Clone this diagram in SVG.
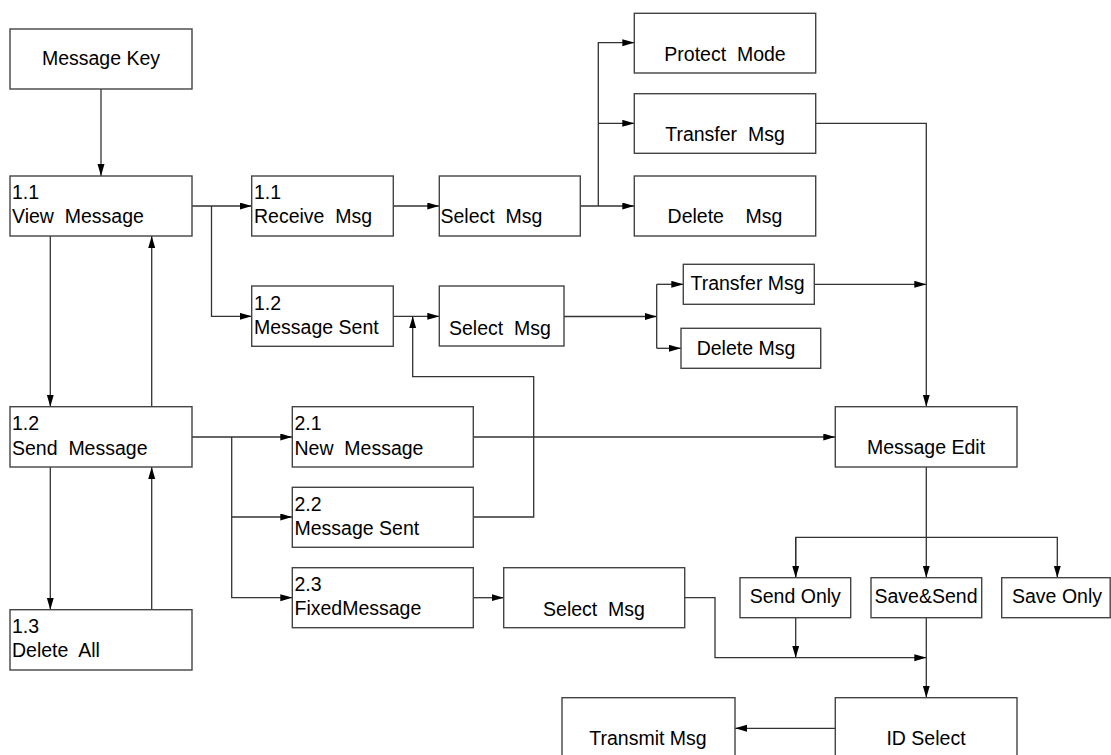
<svg xmlns="http://www.w3.org/2000/svg" width="1111" height="755" viewBox="0 0 1111 755">
<style>
.box{fill:#fff;stroke:#444;stroke-width:1.4}
.t{font-family:"Liberation Sans",Arial,sans-serif;font-size:19.5px;fill:#000;white-space:pre}
.c{text-anchor:middle}
.ln{fill:none;stroke:#333;stroke-width:1.3}
</style>
<defs>
<marker id="a" markerUnits="userSpaceOnUse" markerWidth="12" markerHeight="8" refX="12" refY="3.5" orient="auto">
<path d="M0,0 L12,3.5 L0,7 z" fill="#000"/>
</marker>
</defs>
<rect width="1111" height="755" fill="#fff"/>
<g id="connectors" class="ln">
<path d="M101,89 V176" marker-end="url(#a)"/>
<path d="M192,206 H251.7" marker-end="url(#a)"/>
<path d="M211.5,206 V316.3 H251.7" marker-end="url(#a)"/>
<path d="M50.3,236 V406.7" marker-end="url(#a)"/>
<path d="M151.7,406.7 V236" marker-end="url(#a)"/>
<path d="M50.3,467 V609.7" marker-end="url(#a)"/>
<path d="M151.7,609.7 V467" marker-end="url(#a)"/>
<path d="M393.3,206 H439.3" marker-end="url(#a)"/>
<path d="M580.3,206 H634.3" marker-end="url(#a)"/>
<path d="M598.3,206 V42.7 H634.3" marker-end="url(#a)"/>
<path d="M598.3,123.3 H634.3" marker-end="url(#a)"/>
<path d="M815.7,123.3 H926.3 V406.7" marker-end="url(#a)"/>
<path d="M393.3,316.3 H439.3" marker-end="url(#a)"/>
<path d="M564,316.5 H656.7" marker-end="url(#a)"/>
<path d="M656.7,284.3 V348.3"/>
<path d="M656.7,284.3 H683.3" marker-end="url(#a)"/>
<path d="M656.7,348.3 H681" marker-end="url(#a)"/>
<path d="M814.3,284.3 H926.3" marker-end="url(#a)"/>
<path d="M192,437 H292.3" marker-end="url(#a)"/>
<path d="M231.7,437 V597.7 H292.3" marker-end="url(#a)"/>
<path d="M231.7,517 H292.3" marker-end="url(#a)"/>
<path d="M473.3,437 H835.3" marker-end="url(#a)"/>
<path d="M473.3,517 H533.7 V376.7 H412.7 V316.3" marker-end="url(#a)"/>
<path d="M473.3,597.7 H503.7" marker-end="url(#a)"/>
<path d="M684.7,597.7 H715 V657.7 H926.3" marker-end="url(#a)"/>
<path d="M926.3,467 V577.7" marker-end="url(#a)"/>
<path d="M795.7,577.7 V537.3 H1057.3 V577.7" marker-end="url(#a)"/>
<path d="M795.7,537.3 V577.7" marker-end="url(#a)"/>
<path d="M795.7,617.7 V657.7" marker-end="url(#a)"/>
<path d="M926.3,617.7 V697.7" marker-end="url(#a)"/>
<path d="M835.3,728.3 H735" marker-end="url(#a)"/>
</g>
<g id="message-key"><rect class="box" x="10" y="29" width="182" height="60"/><text class="t c" x="101" y="65">Message Key</text></g>
<g id="view-message"><rect class="box" x="10" y="176" width="182" height="60"/><text class="t" x="12" y="199">1.1</text><text class="t" x="12" y="223">View  Message</text></g>
<g id="receive-msg"><rect class="box" x="251.7" y="176" width="141.6" height="60"/><text class="t" x="254" y="199">1.1</text><text class="t" x="254" y="223">Receive  Msg</text></g>
<g id="select-msg-1"><rect class="box" x="439.3" y="176" width="141" height="60"/><text class="t" x="440.5" y="223">Select  Msg</text></g>
<g id="protect-mode"><rect class="box" x="634.3" y="13.3" width="181.4" height="59.7"/><text class="t c" x="725" y="61">Protect  Mode</text></g>
<g id="transfer-msg-1"><rect class="box" x="634.3" y="93.7" width="181.4" height="59.6"/><text class="t c" x="725" y="141">Transfer  Msg</text></g>
<g id="delete-msg-1"><rect class="box" x="634.3" y="176" width="181.4" height="60"/><text class="t c" x="725" y="223">Delete    Msg</text></g>
<g id="message-sent-1"><rect class="box" x="251.7" y="286" width="141.6" height="60.3"/><text class="t" x="254" y="309.5">1.2</text><text class="t" x="254" y="333.5">Message Sent</text></g>
<g id="select-msg-2"><rect class="box" x="439.3" y="286" width="124.7" height="60"/><text class="t" x="449" y="335">Select  Msg</text></g>
<g id="transfer-msg-2"><rect class="box" x="683.3" y="264.3" width="131" height="40"/><text class="t" x="690.5" y="290">Transfer Msg</text></g>
<g id="delete-msg-2"><rect class="box" x="681" y="328.3" width="139.7" height="40"/><text class="t c" x="746" y="355">Delete Msg</text></g>
<g id="send-message"><rect class="box" x="10" y="406.7" width="182" height="60.3"/><text class="t" x="12" y="430">1.2</text><text class="t" x="12" y="455">Send  Message</text></g>
<g id="delete-all"><rect class="box" x="10" y="609.7" width="182" height="60.3"/><text class="t" x="12" y="633.3">1.3</text><text class="t" x="12" y="657.3">Delete  All</text></g>
<g id="new-message"><rect class="box" x="292.3" y="406.7" width="181" height="60.3"/><text class="t" x="294.5" y="430">2.1</text><text class="t" x="294.5" y="455">New  Message</text></g>
<g id="message-sent-2"><rect class="box" x="292.3" y="487.3" width="181" height="60"/><text class="t" x="294.5" y="510.7">2.2</text><text class="t" x="294.5" y="535">Message Sent</text></g>
<g id="fixed-message"><rect class="box" x="292.3" y="567.7" width="181" height="60"/><text class="t" x="294.5" y="591">2.3</text><text class="t" x="294.5" y="615">FixedMessage</text></g>
<g id="select-msg-3"><rect class="box" x="503.7" y="567.7" width="181" height="60"/><text class="t c" x="594" y="615.7">Select  Msg</text></g>
<g id="message-edit"><rect class="box" x="835.3" y="406.7" width="181.7" height="60.3"/><text class="t c" x="926" y="454">Message Edit</text></g>
<g id="send-only"><rect class="box" x="740" y="577.7" width="110.7" height="40"/><text class="t c" x="795.3" y="603">Send Only</text></g>
<g id="save-send"><rect class="box" x="871" y="577.7" width="110.7" height="40"/><text class="t c" x="926" y="603">Save&amp;Send</text></g>
<g id="save-only"><rect class="box" x="1001.7" y="577.7" width="108.5" height="40"/><text class="t c" x="1057" y="603">Save Only</text></g>
<g id="id-select"><rect class="box" x="835.3" y="697.7" width="181.7" height="62"/><text class="t c" x="926" y="745">ID Select</text></g>
<g id="transmit-msg"><rect class="box" x="562" y="697.7" width="173" height="62"/><text class="t c" x="648" y="745">Transmit Msg</text></g>
</svg>
